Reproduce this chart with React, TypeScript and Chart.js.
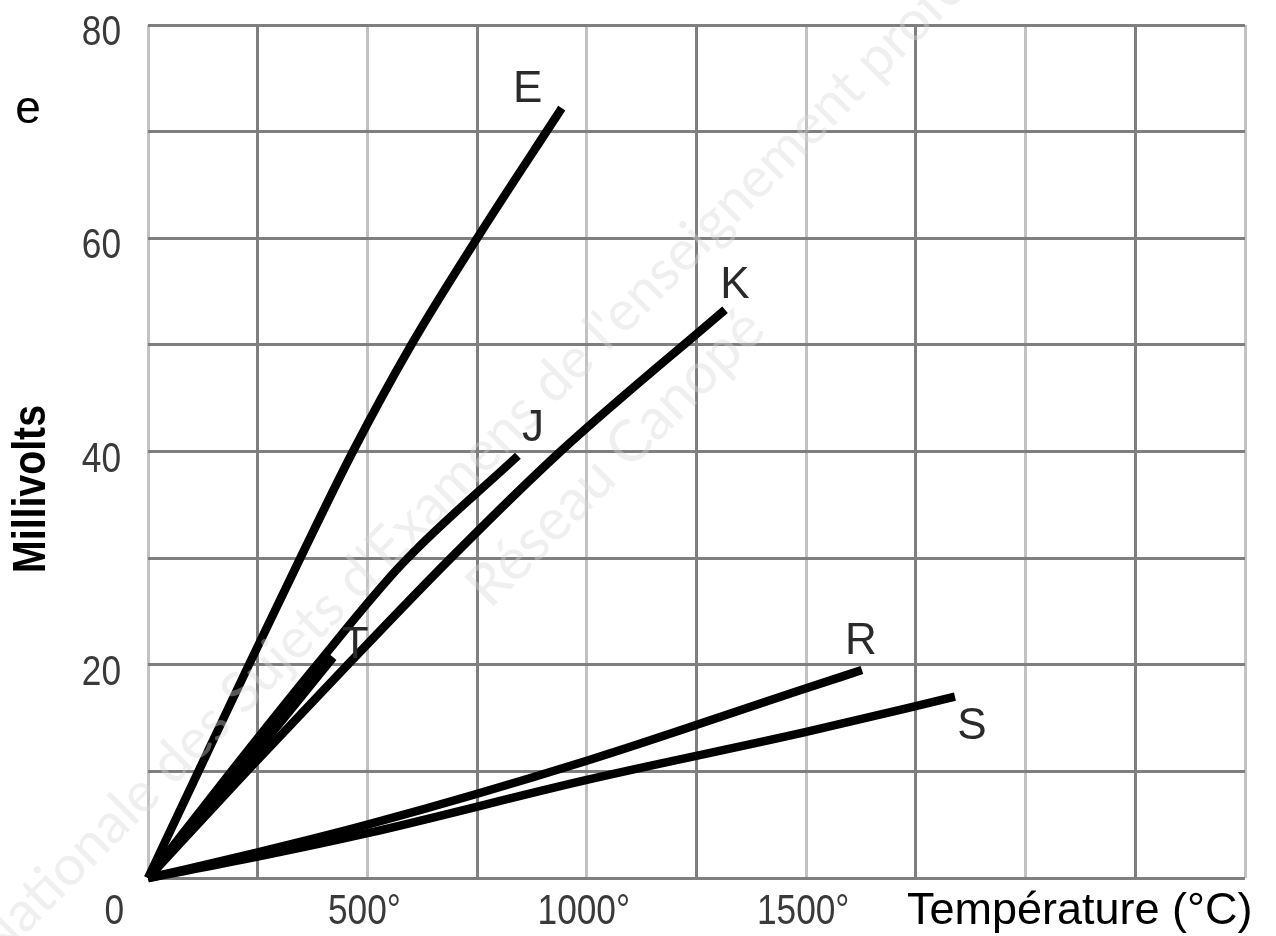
import React, { useEffect, useRef } from "react";
import { Chart, registerables } from "chart.js";

Chart.register(...registerables);

// ---- Data (temperature °C, e.m.f. mV) ----
const eTemp = [0, 115, 230, 347, 467, 600, 750, 943];
const eMv = [0, 10, 20, 30, 40, 50, 60, 72.2];
const jTemp = [0, 190, 385, 580, 843];
const jMv = [0, 10, 20, 29.5, 39.6];
const tTemp = [0, 210, 422];
const tMv = [0, 10, 20.7];
const kTemp = [0, 225, 455, 690, 940, 1315];
const kMv = [0, 10, 20, 30, 40, 53.3];
const rTemp = [0, 250, 500, 1000, 1500, 1627];
const rMv = [0, 2.4, 5.0, 11.0, 17.8, 19.5];
const sTemp = [0, 250, 500, 1000, 1500, 1839];
const sMv = [0, 2, 4.2, 9.2, 13.7, 17.0];

const seriesNames = ["E", "J", "T", "K", "R", "S"];
const seriesTemps = [eTemp, jTemp, tTemp, kTemp, rTemp, sTemp];
const seriesMvs = [eMv, jMv, tMv, kMv, rMv, sMv];

const xTickValues = [0, 500, 1000, 1500];
const xTickLabels = ["0", "500°", "1000°", "1500°"];
const yTickValues = [20, 40, 60, 80];
const yTickLabels = ["20", "40", "60", "80"];

const xTitle = "Température (°C)";
const yTitle = "Millivolts";
const yUnit = "e";
const watermark1 = "Nationale des Sujets d'Examens de l'enseignement professionnel";
const watermark2 = "Réseau Canopé";

// label offsets (pixels) relative to each line's end point — style only
const labelOffsets: Record<string, [number, number]> = {
  E: [-34, -22],
  J: [15, -31],
  T: [22, -15],
  K: [10, -28],
  R: [-1, -32],
  S: [17, 26],
};

function narrowText(
  ctx: CanvasRenderingContext2D,
  text: string,
  x: number,
  y: number,
  align: CanvasTextAlign,
  sx: number
) {
  ctx.save();
  ctx.translate(x, y);
  ctx.scale(sx, 1);
  ctx.textAlign = align;
  ctx.fillText(text, 0, 0);
  ctx.restore();
}

const overlayPlugin = {
  id: "overlay",
  afterDatasetsDraw(chart: any) {
    const ctx = chart.ctx as CanvasRenderingContext2D;
    ctx.save();
    ctx.fillStyle = "rgba(215,215,215,0.4)";
    ctx.font = "56px Lato, 'Liberation Sans', sans-serif";
    ctx.textAlign = "left";
    ctx.textBaseline = "alphabetic";
    ctx.translate(-5, 965);
    ctx.rotate(-Math.PI / 4);
    ctx.fillText(watermark1, 0, 0);
    ctx.restore();
    ctx.save();
    ctx.fillStyle = "rgba(215,215,215,0.4)";
    ctx.font = "58px Lato, 'Liberation Sans', sans-serif";
    ctx.translate(490, 610);
    ctx.rotate(-Math.PI / 4);
    ctx.fillText(watermark2, 0, 0);
    ctx.restore();
  },
  afterDraw(chart: any) {
    const ctx = chart.ctx as CanvasRenderingContext2D;
    const xs = chart.scales.x;
    const ys = chart.scales.y;
    ctx.save();
    // tick labels (narrow face)
    ctx.fillStyle = "#3a3a3a";
    ctx.font = "43px 'Liberation Sans', sans-serif";
    ctx.textBaseline = "alphabetic";
    xTickValues.forEach((v, i) => {
      if (v === 0) {
        narrowText(ctx, xTickLabels[i], 124, 924, "right", 0.82);
      } else {
        narrowText(ctx, xTickLabels[i], xs.getPixelForValue(v) - 3, 924, "center", 0.82);
      }
    });
    yTickValues.forEach((v, i) => {
      narrowText(ctx, yTickLabels[i], 121, ys.getPixelForValue(v) + 20, "right", 0.82);
    });
    // axis titles
    ctx.fillStyle = "#000";
    ctx.font = "45px 'Liberation Sans', sans-serif";
    ctx.textAlign = "left";
    ctx.fillText(xTitle, 907, 924);
    ctx.font = "46px 'Liberation Sans', sans-serif";
    ctx.textAlign = "center";
    ctx.fillText(yUnit, 28, 123);
    ctx.save();
    ctx.translate(45, 489);
    ctx.rotate(-Math.PI / 2);
    ctx.font = "bold 47px 'Liberation Sans', sans-serif";
    narrowText(ctx, yTitle, 0, 0, "center", 0.835);
    ctx.restore();
    // series labels
    ctx.fillStyle = "#2a2a2a";
    ctx.font = "44px 'Liberation Sans', sans-serif";
    ctx.textAlign = "center";
    seriesNames.forEach((name, i) => {
      const t = seriesTemps[i];
      const m = seriesMvs[i];
      const px = xs.getPixelForValue(t[t.length - 1]);
      const py = ys.getPixelForValue(m[m.length - 1]);
      const off = labelOffsets[name];
      ctx.fillText(name, px + off[0], py + off[1] + 16);
    });
    ctx.restore();
  },
};

export default function App() {
  const ref = useRef<HTMLCanvasElement | null>(null);
  useEffect(() => {
    if (!ref.current) return;
    const datasets = seriesNames.map((name, i) => ({
      label: name,
      data: seriesTemps[i].map((t, j) => ({ x: t, y: seriesMvs[i][j] })),
      showLine: true,
      borderColor: "#000",
      backgroundColor: "#000",
      borderWidth: 8.5,
      borderCapStyle: "butt" as const,
      borderJoinStyle: "round" as const,
      pointRadius: 0,
      cubicInterpolationMode: "monotone" as const,
      clip: false as any,
    }));
    const chart = new Chart(ref.current, {
      type: "scatter",
      data: { datasets },
      options: {
        animation: false,
        responsive: false,
        devicePixelRatio: 1,
        layout: { padding: { left: 148, right: 31, top: 25, bottom: 58 } },
        plugins: { legend: { display: false }, tooltip: { enabled: false } },
        scales: {
          x: {
            type: "linear",
            min: 0,
            max: 2500,
            ticks: { display: false, stepSize: 250 },
            border: { display: false },
            grid: {
              drawTicks: false,
              lineWidth: 3,
              color: (c: any) => (c.tick && c.tick.value % 500 === 0 ? "#c2c2c2" : "#7f7f7f"),
            },
          },
          y: {
            type: "linear",
            min: 0,
            max: 80,
            ticks: { display: false, stepSize: 10 },
            border: { display: false },
            grid: { drawTicks: false, lineWidth: 3, color: "#7f7f7f" },
          },
        },
      },
      plugins: [overlayPlugin],
    });
    return () => chart.destroy();
  }, []);
  return (
    <div style={{ position: "absolute", left: 0, top: 0, width: 1276, height: 936, background: "#fff" }}>
      <canvas ref={ref} width={1276} height={936} />
    </div>
  );
}
